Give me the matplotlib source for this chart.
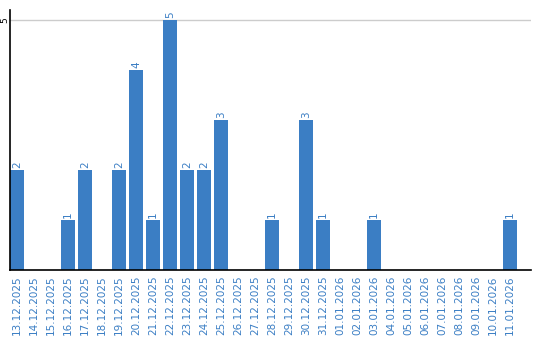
import matplotlib
matplotlib.use("Agg")
import matplotlib.pyplot as plt

dates = ["13.12.2025", "14.12.2025", "15.12.2025", "16.12.2025", "17.12.2025",
         "18.12.2025", "19.12.2025", "20.12.2025", "21.12.2025", "22.12.2025",
         "23.12.2025", "24.12.2025", "25.12.2025", "26.12.2025", "27.12.2025",
         "28.12.2025", "29.12.2025", "30.12.2025", "31.12.2025", "01.01.2026",
         "02.01.2026", "03.01.2026", "04.01.2026", "05.01.2026", "06.01.2026",
         "07.01.2026", "08.01.2026", "09.01.2026", "10.01.2026", "11.01.2026"]
counts = [2, 0, 0, 1, 2, 0, 2, 4, 1, 5, 2, 2, 3, 0, 0,
          1, 0, 3, 1, 0, 0, 1, 0, 0, 0, 0, 0, 0, 0, 1]

blue = "#3b7ec4"

fig = plt.figure(figsize=(5.4, 3.4), dpi=100)
ax = fig.add_axes([10/540, 70/340, 521/540, 260/340])

x = range(len(dates))
ax.bar(x, counts, width=14/17, color=blue, zorder=2)
for i, v in enumerate(counts):
    if v > 0:
        ax.text(i, v + 0.05, str(v), rotation=90, ha="center", va="bottom",
                fontsize=7.5, color=blue)

ax.set_xlim(-7/17, -7/17 + 521/17)
ax.set_ylim(0, 5.2)
ax.set_yticks([5])
ax.set_yticklabels(["5"], rotation=90, va="center", ha="center", fontsize=6.5)
ax.yaxis.grid(True, color="#cccccc", linewidth=1, zorder=0)
ax.set_xticks(list(x))
ax.set_xticklabels(dates, rotation=90, fontsize=7.5, color=blue)
ax.tick_params(length=0, pad=4)
ax.tick_params(axis="y", pad=3.6)

for s in ["top", "right"]:
    ax.spines[s].set_visible(False)
ax.spines["left"].set_linewidth(1.2)
ax.spines["bottom"].set_linewidth(1.2)

fig.savefig("out.png", dpi=100)
